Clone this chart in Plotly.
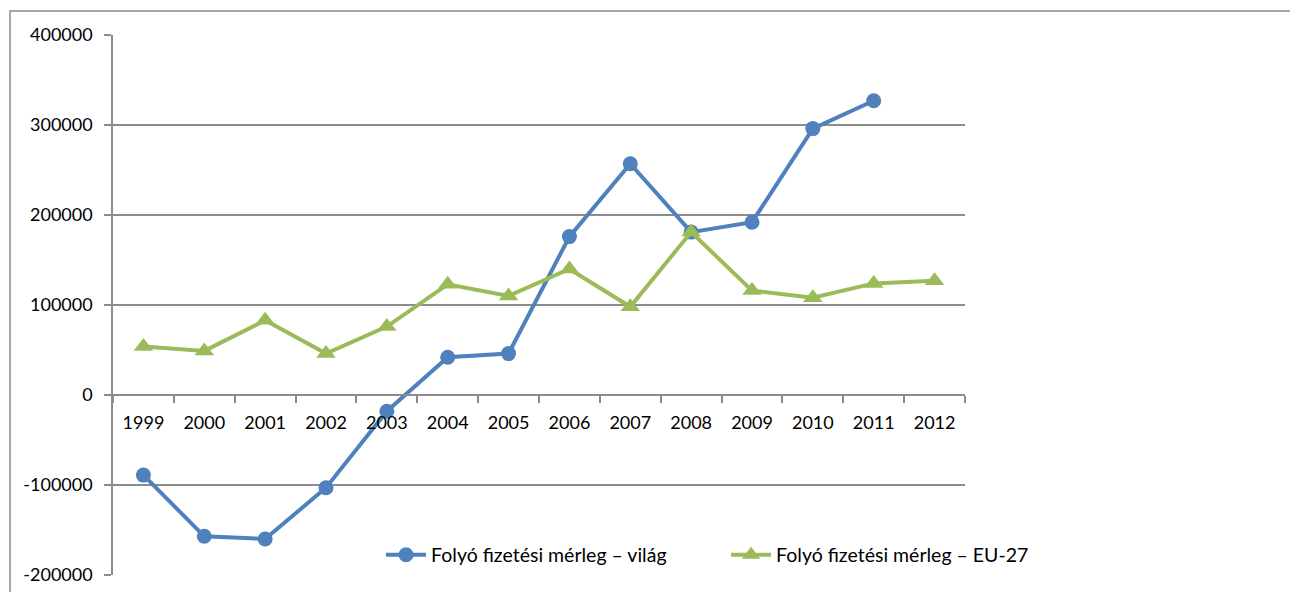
import plotly.graph_objects as go

years = ["1999", "2000", "2001", "2002", "2003", "2004", "2005", "2006", "2007",
         "2008", "2009", "2010", "2011", "2012"]
vilag = [-89000, -157000, -160000, -103000, -18000, 42000, 46000, 176000, 257000,
         181000, 192000, 296000, 327000, None]
eu27 = [54000, 49000, 83000, 46000, 76000, 123000, 110000, 140000, 98000,
        181000, 116000, 108000, 124000, 127000]
y_ticks = [-200000, -100000, 0, 100000, 200000, 300000, 400000]

FONT = "Lato, Carlito, Calibri, sans-serif"
GRID = "#8c8c8c"

fig = go.Figure()
fig.add_trace(go.Scatter(
    x=years, y=vilag, mode="lines+markers", name="Folyó fizetési mérleg – világ",
    line=dict(color="#4F81BD", width=4),
    marker=dict(symbol="circle", size=15, color="#4F81BD"),
))
fig.add_trace(go.Scatter(
    x=years, y=eu27, mode="lines+markers", name="Folyó fizetési mérleg – EU-27",
    line=dict(color="#9BBB59", width=4),
    marker=dict(symbol="triangle-up", size=17, color="#9BBB59"),
))

fig.update_layout(
    width=1290, height=584,
    margin=dict(l=105, r=333, t=27, b=17, autoexpand=False),
    paper_bgcolor="white", plot_bgcolor="white",
    font=dict(family=FONT, size=18, color="black"),
    showlegend=True,
    legend=dict(orientation="h", x=0.3146, xanchor="left", y=0.037, yanchor="middle",
                bgcolor="rgba(0,0,0,0)", font=dict(size=19.5), entrywidth=290,
                itemwidth=40),
    xaxis=dict(
        type="category", anchor="free", position=1/3,
        showline=True, linecolor=GRID, linewidth=1.5,
        ticks="outside", ticklen=7, tickcolor=GRID, tickwidth=1.5,
        tickson="boundaries", showgrid=False, zeroline=False,
        ticklabelstandoff=12,
        range=[-0.5, 13.5],
    ),
    yaxis=dict(
        range=[-200000, 400000], tickvals=y_ticks,
        ticktext=[str(v) for v in y_ticks],
        showgrid=True, gridcolor=GRID, gridwidth=1.5,
        showline=True, linecolor=GRID, linewidth=1.5,
        ticks="outside", ticklen=7, tickcolor=GRID, tickwidth=1.5,
        ticklabelstandoff=8,
        zeroline=False,
    ),
    shapes=[dict(type="rect", xref="paper", yref="paper",
                 x0=(10 - 113) / 852, x1=1.5, y0=-0.2, y1=1 + (35 - 11) / 540,
                 line=dict(color=GRID, width=1.5), layer="below")],
)

fig.write_html("out.html")
